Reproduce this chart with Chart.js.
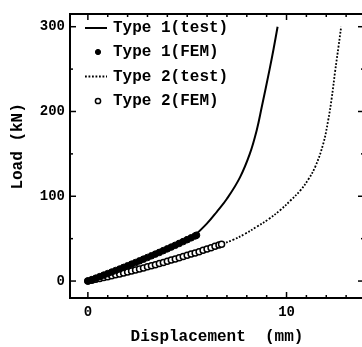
<!DOCTYPE html>
<html><head><meta charset="utf-8">
<script src="https://cdn.jsdelivr.net/npm/chart.js@4"></script>
<style>html,body{margin:0;padding:0;background:#fff;overflow:hidden}#wrap{position:relative;width:370px;height:347px}</style>
</head><body><div id="wrap"><canvas id="c"></canvas></div>
<script>
const seriesNames = ['Type 1(test)', 'Type 1(FEM)', 'Type 2(test)', 'Type 2(FEM)'];

const test1X = [0, 1, 2, 3, 4, 5, 5.4, 6.0, 6.5, 7.0, 7.65, 8.15, 8.5, 8.75, 9.15, 9.35, 9.55];
const test1Y = [0, 8.8, 18, 27.8, 38, 48.8, 54.5, 68, 82, 97, 122, 150, 178, 205, 250, 274, 300];

const fem1X = [0, 0.2, 0.4, 0.6, 0.8, 1.0, 1.2, 1.4, 1.6, 1.8, 2.0, 2.2, 2.4, 2.6, 2.8, 3.0, 3.2, 3.4, 3.6, 3.8, 4.0, 4.2, 4.4, 4.6, 4.8, 5.0, 5.2, 5.4, 5.47];
const fem1Y = [0, 1.7, 3.4, 5.2, 7.0, 8.8, 10.6, 12.4, 14.2, 16.1, 18.0, 19.9, 21.8, 23.8, 25.8, 27.8, 29.8, 31.8, 33.8, 35.9, 38.0, 40.1, 42.2, 44.4, 46.6, 48.8, 51.0, 53.2, 54.1];

const test2X = [0, 1, 2, 3, 4, 5, 6, 6.73, 7.3, 7.9, 8.5, 9.1, 9.7, 10.2, 10.7, 11.1, 11.45, 11.85, 12.1, 12.27, 12.45, 12.62, 12.75];
const test2Y = [0, 5.1, 10.7, 16.8, 23.3, 30.3, 37.8, 43.5, 48.5, 55.5, 64, 73, 84, 95, 107, 120, 135, 162, 190, 215, 248, 277, 300];

const fem2X = [0, 0.2, 0.4, 0.6, 0.8, 1.0, 1.2, 1.4, 1.6, 1.8, 2.0, 2.2, 2.4, 2.6, 2.8, 3.0, 3.2, 3.4, 3.6, 3.8, 4.0, 4.2, 4.4, 4.6, 4.8, 5.0, 5.2, 5.4, 5.6, 5.8, 6.0, 6.2, 6.4, 6.6, 6.73];
const fem2Y = [0, 1.0, 2.0, 3.0, 4.1, 5.1, 6.2, 7.3, 8.4, 9.6, 10.7, 11.9, 13.1, 14.3, 15.5, 16.8, 18.0, 19.3, 20.6, 22.0, 23.3, 24.7, 26.0, 27.4, 28.9, 30.3, 31.8, 33.2, 34.7, 36.2, 37.8, 39.3, 40.9, 42.5, 43.5];

const xTickValues = [0, 10];
const xMinorTickValues = [1, 2, 3, 4, 5, 6, 7, 8, 9, 11, 12, 13];
const yTickValues = [0, 100, 200, 300];
const yMinorTickValues = [50, 150, 250];

const xTitle = 'Displacement  (mm)';
const yTitle = '  Load (kN)';

const FONT = "'Liberation Mono', 'DejaVu Sans Mono', monospace";
const INK = '#000';

function pts(xs, ys) { return xs.map((v, i) => ({x: v, y: ys[i]})); }

const frameTicks = {
  id: 'frameTicks',
  afterDraw(chart) {
    const {ctx, chartArea: a, scales: {x, y}} = chart;
    ctx.save();
    ctx.strokeStyle = INK;
    ctx.lineWidth = 2;
    ctx.strokeRect(a.left, a.top, a.right - a.left, a.bottom - a.top);
    ctx.lineWidth = 1.5;
    const seg = (x1, y1, x2, y2) => { ctx.beginPath(); ctx.moveTo(x1, y1); ctx.lineTo(x2, y2); ctx.stroke(); };
    const xt = (vals, len) => vals.forEach(v => { const p = x.getPixelForValue(v); seg(p, a.bottom, p, a.bottom - len); seg(p, a.top, p, a.top + len); });
    const yt = (vals, len) => vals.forEach(v => { const p = y.getPixelForValue(v); seg(a.left, p, a.left + len, p); seg(a.right, p, a.right - len, p); });
    xt(xTickValues, 6); xt(xMinorTickValues, 3);
    yt(yTickValues, 6); yt(yMinorTickValues, 3);
    ctx.restore();
  }
};

const legendBox = {
  id: 'legendBox',
  afterDraw(chart) {
    const {ctx, chartArea: a} = chart;
    const ds = chart.data.datasets;
    const rows = [14, 38, 62.5, 87];
    const symL = a.left + 15, symR = a.left + 37, symC = a.left + 28, textX = a.left + 43;
    ctx.save();
    ctx.font = 'bold 16px ' + FONT;
    ctx.fillStyle = INK;
    ctx.textBaseline = 'middle';
    ctx.textAlign = 'left';
    [0, 1, 2, 3].forEach((k, i) => {
      const d = ds.find(s => s.label === seriesNames[k]);
      const yy = a.top + rows[i];
      if (d.showLine) {
        ctx.strokeStyle = d.borderColor;
        ctx.lineWidth = d.borderWidth;
        ctx.setLineDash(d.borderDash || []);
        ctx.beginPath(); ctx.moveTo(symL, yy); ctx.lineTo(symR, yy); ctx.stroke();
        ctx.setLineDash([]);
      } else {
        ctx.beginPath(); ctx.arc(symC, yy, 2.6, 0, Math.PI * 2);
        ctx.fillStyle = d.pointBackgroundColor; ctx.fill();
        ctx.lineWidth = d.pointBorderWidth; ctx.strokeStyle = d.pointBorderColor; ctx.stroke();
        ctx.fillStyle = INK;
      }
      ctx.fillText(seriesNames[k], textX, yy);
    });
    ctx.restore();
  }
};

new Chart(document.getElementById('c'), {
  type: 'scatter',
  data: {
    datasets: [
      {label: seriesNames[1], data: pts(fem1X, fem1Y), showLine: false, pointRadius: 3.3, pointBackgroundColor: INK, pointBorderColor: INK, pointBorderWidth: 1, order: 0},
      {label: seriesNames[3], data: pts(fem2X, fem2Y), showLine: false, pointRadius: 3, pointBackgroundColor: '#fff', pointBorderColor: INK, pointBorderWidth: 1.5, order: 1},
      {label: seriesNames[0], data: pts(test1X, test1Y), showLine: true, borderColor: INK, borderWidth: 2, pointRadius: 0, tension: 0.4, order: 2},
      {label: seriesNames[2], data: pts(test2X, test2Y), showLine: true, borderColor: INK, borderWidth: 1.8, borderDash: [1.8, 1.7], pointRadius: 0, tension: 0.4, order: 3}
    ]
  },
  options: {
    responsive: true,
    maintainAspectRatio: false,
    animation: false,
    devicePixelRatio: 1,
    layout: {padding: {left: 0, right: 6, top: 14, bottom: 0}},
    plugins: {legend: {display: false}, tooltip: {enabled: false}},
    scales: {
      x: {
        type: 'linear', min: -0.9, max: 13.9,
        grid: {display: false, drawTicks: false}, border: {display: false},
        afterBuildTicks: s => { s.ticks = xTickValues.map(v => ({value: v})); },
        afterFit: s => { s.height = 49; },
        ticks: {color: INK, padding: 6, font: {family: FONT, size: 14, weight: 'bold'}, callback: v => String(v)},
        title: {display: true, text: xTitle, color: INK, padding: {top: 0, bottom: 0.4}, font: {family: FONT, size: 16, weight: 'bold'}}
      },
      y: {
        type: 'linear', min: -20, max: 315,
        grid: {display: false, drawTicks: false}, border: {display: false},
        afterBuildTicks: s => { s.ticks = yTickValues.map(v => ({value: v})); },
        afterFit: s => { s.width = 70; },
        ticks: {color: INK, padding: 5, font: {family: FONT, size: 14, weight: 'bold'}, callback: v => String(v)},
        title: {display: true, text: yTitle, color: INK, padding: {top: 8.4, bottom: 0}, font: {family: FONT, size: 16, weight: 'bold'}}
      }
    }
  },
  plugins: [frameTicks, legendBox]
});
</script>
</body></html>
